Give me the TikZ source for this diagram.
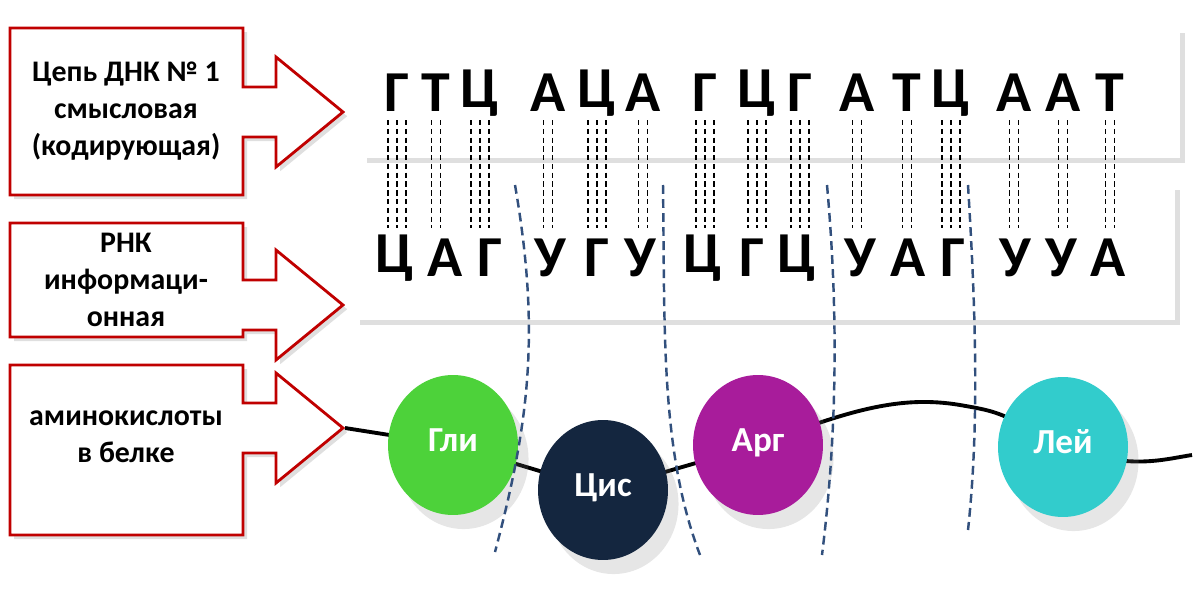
\documentclass[tikz,border=0pt]{standalone}
\usepackage{fontspec}
\setmainfont{Carlito}
\usetikzlibrary{shadows,shapes.geometric,backgrounds}
\definecolor{boxred}{RGB}{192,0,0}
\definecolor{sepblue}{RGB}{50,80,125}
\definecolor{gli}{RGB}{77,210,58}
\definecolor{cis}{RGB}{20,38,63}
\definecolor{arg}{RGB}{168,28,155}
\definecolor{lei}{RGB}{50,204,204}
\tikzset{
  label box/.style={draw=boxred,line width=1.6pt,fill=white,drop shadow={opacity=0.25}},
  panel/.style={fill=white,drop shadow={opacity=0.25,shadow xshift=3pt,shadow yshift=-3pt}},
  base/.style={font=\fontsize{33}{33}\selectfont\bfseries,inner sep=0pt},
  pair/.style={densely dashed,line width=0.6pt},
  sep/.style={dash pattern=on 5pt off 3pt,sepblue,line width=1.4pt},
  amino/.style={ellipse,minimum width=2.6cm,minimum height=2.8cm,text=white,
    text height=1.45ex,text depth=0pt,
    font=\fontsize{20}{20}\selectfont\bfseries,drop shadow={opacity=0.2,shadow xshift=6pt,shadow yshift=-8pt}},
  caption/.style={font=\fontsize{17}{21}\selectfont\bfseries,align=center},
  chain/.style={line width=2.2pt}
}
\begin{document}
\begin{tikzpicture}[x=0.02cm,y=-0.02cm]
  \useasboundingbox (0,0) rectangle (1200,612);
  % label boxes with arrows
  \foreach \top/\bot/\tip in {28/195/112, 223/337/305, 365/535/428}{
    \path[label box] (10,\top) -- (243,\top) -- (243,\tip-25) -- (276,\tip-25) -- (276,\tip-55)
      -- (343,\tip) -- (276,\tip+55) -- (276,\tip+25) -- (243,\tip+25) -- (243,\bot) -- (10,\bot) -- cycle;
  }
  \node[caption] (l1) at (126,111) {Цепь ДНК № 1\\смысловая\\(кодирующая)};
  \node[caption] (l2) at (126,280) {РНК\\информаци-\\онная};
  \node[caption] (l3) at (126,437) {аминокислоты\\в белке};

  % panels
  \fill[panel] (362,28) rectangle (1180,158);
  \fill[panel] (355,185) rectangle (1175,320);

  % dashed pair lines
  \foreach \x/\n in {397/3,436/2,480/3,548/2,597/3,643/2,705/3,757/3,800/3,857/2,907/2,951/3,1014/2,1063/2,1110/2}{
    \foreach \k in {1,...,\n}{
      \draw[pair] ({\x-(\n+1)*4.5+\k*9},120) -- ({\x-(\n+1)*4.5+\k*9},228);
    }
  }

  % DNA and RNA letters
  \foreach \x/\b [count=\i] in {397/Г,436/Т,480/Ц,548/А,597/Ц,643/А,705/Г,757/Ц,800/Г,857/А,907/Т,951/Ц,1014/А,1063/А,1110/Т}
    \node[base] (d\i) at (\x,93) {\b};
  \foreach \x/\b [count=\i] in {395/Ц,445/А,490/Г,550/У,597/Г,640/У,703/Ц,752/Г,797/Ц,860/У,908/А,953/Г,1015/У,1061/У,1108/А}
    \node[base] (r\i) at (\x,258) {\b};

  % protein chain
  \coordinate (c0) at (345,428);
  \coordinate (c1) at (1192,455);
  \node[amino,fill=gli] (gly) at (453,445) {Гли};
  \node[amino,fill=cis] (cys) at (603,490) {Цис};
  \node[amino,fill=arg] (arg) at (758,445) {Арг};
  \node[amino,fill=lei] (leu) at (1063,447) {Лей};
  \begin{pgfonlayer}{background}
    \draw[chain] (c0) -- (gly.center) -- (cys.center) -- (arg.center);
    \draw[chain] (arg.center) .. controls (850,410) and (900,395) .. (960,405)
      .. controls (1000,412) .. (leu.center);
    \draw[chain] (leu.center) .. controls (1130,470) and (1160,460) .. (c1);
  \end{pgfonlayer}

  % codon separators
  \draw[sep] (515,185) .. controls (540,330) and (530,420) .. (495,552);
  \draw[sep] (663,185) .. controls (665,330) and (660,450) .. (700,555);
  \draw[sep] (827,185) .. controls (840,330) and (835,450) .. (822,555);
  \draw[sep] (968,185) .. controls (975,300) and (980,420) .. (968,530);
\end{tikzpicture}
\end{document}
